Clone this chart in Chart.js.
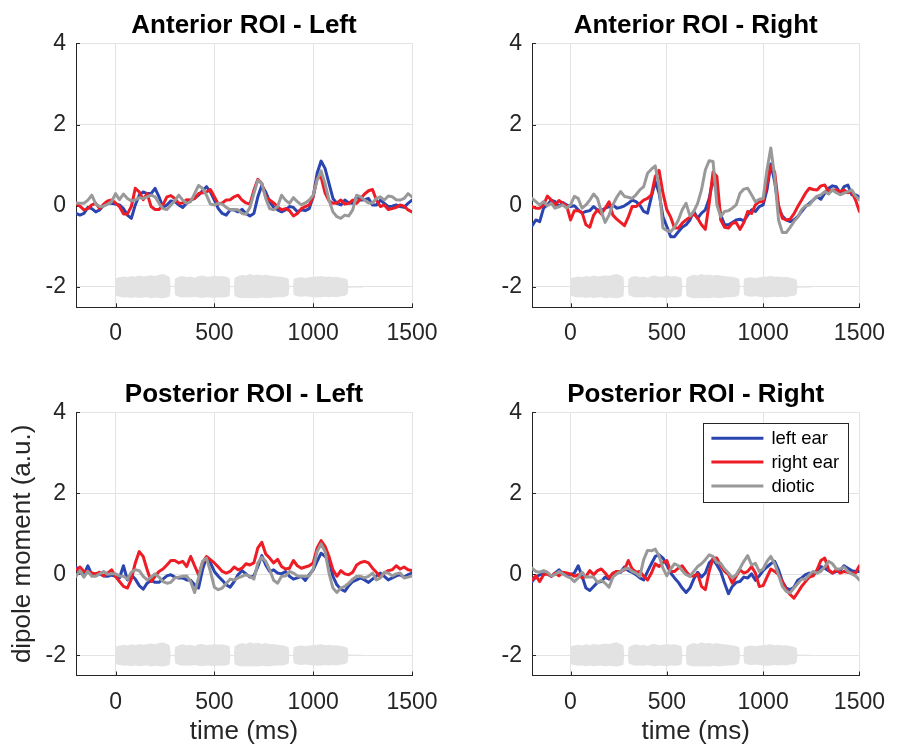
<!DOCTYPE html>
<html><head><meta charset="utf-8">
<script src="https://cdn.jsdelivr.net/npm/chart.js@4.4.1/dist/chart.umd.min.js"></script>
<style>
html,body{margin:0;padding:0;background:#fff;}
#wrap{position:relative;width:898px;height:749px;background:#fff;}
#wrap canvas{position:absolute;left:0;top:0;}
</style></head><body>
<div id="wrap">
<canvas id="c0" width="898" height="749"></canvas>
<canvas id="c1" width="898" height="749"></canvas>
<canvas id="c2" width="898" height="749"></canvas>
<canvas id="c3" width="898" height="749"></canvas>
</div>
<script>
// ---------------- data ----------------
const time = [-200,-180,-160,-140,-120,-100,-80,-60,-40,-20,0,20,40,60,80,100,120,140,160,180,200,220,240,260,280,300,320,340,360,380,400,420,440,460,480,500,520,540,560,580,600,620,640,660,680,700,720,740,760,780,800,820,840,860,880,900,920,940,960,980,1000,1020,1040,1060,1080,1100,1120,1140,1160,1180,1200,1220,1240,1260,1280,1300,1320,1340,1360,1380,1400,1420,1440,1460,1480,1500];

const seriesNames = ['left ear','right ear','diotic'];
const panelTitles = ['Anterior ROI - Left','Anterior ROI - Right','Posterior ROI - Left','Posterior ROI - Right'];
const xTickValues = [0,500,1000,1500];
const xTickLabels = ['0','500','1000','1500'];
const yTickValues = [-2,0,2,4];
const yTickLabels = ['-2','0','2','4'];
const xLabel = 'time (ms)';
const yLabel = 'dipole moment (a.u.)';

// Anterior ROI - Left
const antLeftLeftEar = [-0.19,-0.23,-0.19,-0.04,-0.07,-0.15,-0.10,0.02,0.06,0.06,
 0.04,0.02,-0.07,-0.23,-0.31,0.02,0.26,0.34,0.30,0.30,
 0.43,0.22,-0.04,0.02,0.12,0.10,0.02,-0.04,0.06,0.14,
 0.18,0.26,0.37,0.47,0.34,0.14,-0.07,-0.19,-0.23,-0.10,
 -0.10,-0.15,-0.09,-0.19,-0.25,-0.19,0.22,0.50,0.34,0.10,
 -0.04,-0.10,-0.15,-0.10,-0.02,-0.04,-0.15,-0.10,-0.12,-0.07,
 0.22,0.80,1.10,0.92,0.55,0.18,0.06,0.02,0.14,0.07,
 0.06,0.22,0.14,0.15,0.18,0.02,0.02,0.14,0.06,-0.02,
 -0.01,0.02,-0.02,-0.04,0.06,0.14];
const antLeftRightEar = [0.06,-0.01,-0.10,-0.07,0.02,0.06,-0.07,0.04,0.12,0.14,
 0.07,-0.02,-0.20,-0.20,-0.02,0.43,0.34,0.15,0.30,-0.02,
 -0.09,-0.09,0.02,0.22,0.25,0.18,0.06,0.07,0.15,0.14,
 0.18,0.30,0.32,0.34,0.40,0.22,0.04,0.07,0.14,0.15,
 0.22,0.26,0.14,0.07,0.04,0.38,0.65,0.55,0.22,0.14,
 0.07,-0.02,-0.10,-0.07,-0.12,-0.25,-0.19,-0.07,-0.02,0.02,
 0.22,0.67,0.71,0.32,0.12,0.06,0.07,0.14,0.04,0.06,
 0.14,0.06,0.18,0.29,0.37,0.40,0.14,-0.02,0.02,-0.09,
 -0.07,-0.04,0.02,-0.01,-0.10,-0.15];
const antLeftDiotic = [0.07,0.06,0.06,0.14,0.26,0.04,-0.02,-0.01,0.04,0.10,
 0.30,0.15,0.29,0.18,0.12,0.14,0.20,0.18,0.22,0.26,
 0.22,0.06,-0.07,-0.09,0.02,0.12,0.26,0.14,0.06,0.10,
 0.30,0.50,0.43,0.26,0.04,0.02,0.06,0.04,-0.04,-0.10,
 -0.09,-0.10,-0.19,-0.21,-0.04,0.30,0.63,0.55,0.18,-0.07,
 -0.10,-0.02,0.26,0.14,0.06,0.20,0.10,0.02,0.07,0.14,
 0.26,0.63,0.86,0.55,0.14,-0.15,-0.27,-0.31,-0.23,-0.25,
 -0.10,0.26,0.22,0.14,0.07,0.07,0.18,0.22,0.14,0.24,
 0.22,0.15,0.14,0.18,0.30,0.22];

// Anterior ROI - Right
const antRightLeftEar = [-0.50,-0.35,-0.39,-0.06,0.02,0.14,0.10,-0.02,0.08,0.02,
 -0.02,0.00,-0.10,-0.18,-0.14,-0.12,-0.02,-0.10,-0.12,-0.06,
 -0.02,0.02,-0.06,-0.04,0.00,0.06,0.14,0.10,0.02,-0.14,
 -0.18,0.22,0.60,0.31,-0.27,-0.51,-0.76,-0.76,-0.64,-0.53,
 -0.47,-0.35,-0.14,-0.31,-0.18,-0.10,0.18,0.68,0.31,-0.23,
 -0.47,-0.47,-0.41,-0.35,-0.33,-0.37,-0.23,-0.10,-0.14,-0.02,
 0.02,0.39,1.03,0.59,-0.06,-0.25,-0.35,-0.39,-0.35,-0.27,
 -0.14,-0.02,0.06,0.14,0.23,0.16,0.31,0.43,0.49,0.47,
 0.31,0.47,0.51,0.27,0.27,0.22];
const antRightRightEar = [-0.02,-0.06,-0.06,0.02,0.24,0.14,0.02,0.13,0.06,0.00,
 -0.35,-0.12,-0.12,-0.17,-0.47,-0.53,-0.23,-0.10,-0.20,-0.06,
 0.10,-0.23,-0.33,-0.41,-0.49,-0.28,-0.02,-0.02,0.06,0.14,
 0.18,0.27,0.72,0.87,0.31,-0.10,-0.28,-0.55,-0.55,-0.43,
 -0.35,-0.28,-0.20,-0.31,-0.47,-0.58,0.06,0.83,0.72,-0.35,
 -0.53,-0.55,-0.43,-0.41,-0.58,-0.41,-0.14,-0.19,0.02,0.10,
 0.10,0.55,0.98,0.83,0.02,-0.31,-0.35,-0.33,-0.20,-0.02,
 0.14,0.31,0.43,0.40,0.39,0.49,0.51,0.35,0.39,0.39,
 0.35,0.39,0.32,0.35,0.14,-0.14];
const antRightDiotic = [0.18,0.10,0.02,0.10,0.00,0.06,-0.06,-0.02,0.02,-0.06,
 0.02,0.23,0.18,-0.06,0.02,0.14,0.29,0.18,-0.14,-0.41,
 -0.23,0.02,0.21,0.35,0.23,0.21,0.18,0.27,0.39,0.47,
 0.80,0.90,0.98,0.47,-0.55,-0.61,-0.64,-0.53,-0.35,-0.10,
 0.06,-0.25,-0.14,0.06,0.39,0.88,1.11,1.09,0.02,-0.27,
 -0.14,-0.12,-0.06,0.02,0.31,0.41,0.43,0.27,0.10,0.16,
 0.18,0.88,1.42,0.72,-0.35,-0.66,-0.66,-0.53,-0.39,-0.28,
 -0.10,0.00,0.02,0.14,0.23,0.27,0.35,0.29,0.39,0.32,
 0.27,0.31,0.35,0.39,0.24,0.14];

// Posterior ROI - Left
const postLeftLeftEar = [0.18,0.03,-0.01,0.21,-0.01,0.01,0.01,-0.04,-0.05,-0.02,
 -0.05,-0.09,0.21,-0.14,-0.01,-0.12,-0.28,-0.37,-0.22,-0.15,
 -0.20,-0.20,-0.12,-0.04,-0.01,-0.07,-0.09,-0.09,-0.14,-0.15,
 -0.26,-0.34,0.11,0.42,0.28,0.07,-0.05,-0.15,-0.26,-0.32,
 -0.18,-0.01,0.09,0.01,-0.07,-0.04,0.19,0.46,0.23,0.07,
 0.11,0.03,0.01,0.07,-0.05,-0.12,-0.09,-0.05,-0.15,-0.01,
 0.11,0.32,0.52,0.44,0.34,-0.05,-0.26,-0.37,-0.42,-0.28,
 -0.18,-0.14,-0.09,-0.14,-0.20,-0.12,-0.04,0.03,-0.05,-0.14,
 -0.09,-0.04,-0.01,-0.07,-0.01,0.03];
const postLeftRightEar = [0.11,0.18,0.07,0.07,0.03,0.01,0.05,-0.04,0.03,0.11,
 -0.05,-0.18,-0.30,-0.34,-0.12,0.28,0.56,0.44,0.11,-0.18,
 -0.05,0.07,0.13,0.23,0.34,0.34,0.28,0.32,0.19,0.44,
 0.21,-0.01,0.28,0.44,0.36,0.28,0.18,0.07,0.03,0.07,
 0.18,0.11,0.15,0.26,0.23,0.28,0.65,0.79,0.50,0.40,
 0.28,0.37,0.19,0.13,0.15,0.34,0.21,0.15,0.18,0.21,
 0.28,0.65,0.83,0.69,0.44,0.11,-0.05,0.09,0.01,-0.01,
 0.05,0.23,0.29,0.32,0.28,0.15,0.05,-0.07,0.03,0.09,
 0.11,0.21,0.13,0.18,0.11,0.09];
const postLeftDiotic = [-0.05,0.09,-0.07,0.07,-0.05,-0.05,0.01,0.07,0.00,0.01,
 0.01,-0.04,-0.05,-0.12,0.05,0.11,0.09,-0.05,-0.14,-0.07,
 0.01,-0.07,-0.18,-0.22,-0.20,-0.09,-0.07,-0.05,-0.04,-0.18,
 -0.45,-0.09,0.32,0.40,0.07,-0.32,-0.38,-0.34,-0.23,-0.12,
 -0.14,-0.09,-0.05,-0.01,-0.05,-0.12,0.28,0.42,0.32,0.11,
 -0.15,-0.22,-0.05,-0.04,0.07,0.03,-0.04,-0.05,-0.05,-0.04,
 0.13,0.56,0.75,0.56,0.03,-0.34,-0.45,-0.34,-0.30,-0.22,
 -0.12,-0.05,-0.05,-0.09,-0.05,0.03,-0.14,-0.09,0.05,0.03,
 -0.04,0.01,0.03,-0.09,-0.07,-0.04];

// Posterior ROI - Right
const postRightLeftEar = [-0.18,-0.07,-0.01,0.01,0.01,-0.05,0.03,0.11,0.01,-0.01,
 -0.01,0.03,0.21,-0.05,-0.34,-0.40,-0.30,-0.20,-0.18,-0.07,
 -0.12,-0.01,0.07,0.05,0.18,0.09,0.05,-0.01,-0.09,-0.14,
 0.07,0.26,0.44,0.48,0.40,0.23,0.03,-0.09,-0.20,-0.34,
 -0.45,-0.34,-0.12,0.05,-0.07,0.03,0.28,0.37,0.23,0.07,
 -0.22,-0.48,-0.30,-0.20,-0.18,-0.07,-0.09,0.01,-0.15,-0.04,
 0.09,0.18,0.26,0.32,0.11,-0.18,-0.34,-0.38,-0.32,-0.15,
 -0.09,-0.01,0.03,-0.01,0.07,0.19,0.15,0.09,0.03,0.07,
 0.09,0.21,0.15,0.09,0.07,0.07];
const postRightRightEar = [-0.14,-0.04,-0.18,-0.01,0.01,-0.05,0.03,-0.04,0.05,0.03,
 0.01,-0.05,-0.01,-0.09,-0.05,0.09,-0.01,0.09,0.13,0.03,
 -0.09,0.03,0.07,0.07,0.11,0.34,0.13,0.05,0.07,-0.05,
 -0.14,0.03,0.26,0.19,0.29,0.34,0.07,0.07,0.15,0.21,
 0.07,-0.04,-0.04,0.01,-0.30,-0.38,0.07,0.40,0.40,0.21,
 0.07,-0.01,-0.22,-0.05,0.11,0.03,0.07,0.19,0.03,-0.30,
 -0.28,-0.07,0.13,0.07,-0.01,-0.18,-0.38,-0.50,-0.59,-0.45,
 -0.30,-0.18,-0.07,-0.04,0.11,0.34,0.40,0.11,0.03,0.11,
 0.03,0.07,0.05,0.03,0.03,0.21];
const postRightDiotic = [0.15,0.07,0.05,0.09,0.05,-0.04,-0.01,0.07,0.01,-0.05,
 -0.09,-0.18,-0.09,0.05,-0.07,-0.07,-0.07,-0.20,-0.15,-0.22,
 -0.32,-0.07,0.01,0.07,0.13,0.15,0.07,0.03,-0.05,0.36,
 0.59,0.58,0.62,0.45,0.15,-0.04,0.13,0.26,0.21,0.09,
 -0.01,-0.05,0.07,0.19,0.26,0.36,0.48,0.44,0.29,0.27,
 0.13,0.03,-0.09,-0.01,0.15,0.32,0.46,0.23,0.27,0.07,
 0.13,0.32,0.44,0.26,-0.01,-0.30,-0.42,-0.46,-0.34,-0.23,
 -0.12,-0.12,-0.01,0.07,0.03,0.07,0.19,0.32,0.26,0.13,
 0.13,0.18,0.07,0.01,-0.04,-0.14];

// stimulus waveform envelope (drawn around -2)
const audioT = [0,3,20,40,60,80,100,120,140,160,180,200,220,240,260,275,279,
 298,301,320,340,360,380,400,420,440,460,480,500,520,540,560,577,581,
 599,602,620,640,660,680,700,720,740,760,780,800,820,840,860,876,880,
 898,901,920,940,960,980,1000,1020,1040,1060,1080,1100,1120,1140,1160,1174,1178,1250,1252];
const audioHi = [-2,-1.78,-1.76,-1.74,-1.76,-1.73,-1.75,-1.72,-1.74,-1.73,-1.71,-1.73,-1.70,-1.68,-1.72,-1.76,-2,
 -2,-1.80,-1.75,-1.73,-1.76,-1.74,-1.77,-1.73,-1.72,-1.75,-1.74,-1.72,-1.74,-1.73,-1.75,-1.78,-2,
 -2,-1.78,-1.73,-1.70,-1.72,-1.68,-1.71,-1.69,-1.72,-1.70,-1.72,-1.73,-1.74,-1.75,-1.77,-1.80,-2,
 -2,-1.80,-1.77,-1.76,-1.78,-1.76,-1.75,-1.74,-1.73,-1.75,-1.74,-1.76,-1.75,-1.77,-1.79,-1.82,-1.98,-1.99,-2];
const audioLo = [-2,-2.22,-2.24,-2.26,-2.25,-2.27,-2.25,-2.27,-2.26,-2.25,-2.28,-2.26,-2.27,-2.28,-2.26,-2.23,-2,
 -2,-2.20,-2.24,-2.26,-2.25,-2.26,-2.24,-2.26,-2.27,-2.25,-2.26,-2.27,-2.25,-2.26,-2.25,-2.22,-2,
 -2,-2.22,-2.26,-2.28,-2.27,-2.28,-2.27,-2.28,-2.26,-2.27,-2.27,-2.26,-2.25,-2.25,-2.24,-2.20,-2,
 -2,-2.20,-2.23,-2.24,-2.23,-2.24,-2.25,-2.26,-2.25,-2.24,-2.25,-2.24,-2.25,-2.23,-2.22,-2.18,-2.02,-2.01,-2];

const panelSeries = [
  [antLeftLeftEar, antLeftRightEar, antLeftDiotic],
  [antRightLeftEar, antRightRightEar, antRightDiotic],
  [postLeftLeftEar, postLeftRightEar, postLeftDiotic],
  [postRightLeftEar, postRightRightEar, postRightDiotic]
];

// ---------------- style / layout ----------------
const lineColors = ['#2a44b0','#ee1c25','#999999'];
const bandColor = '#e3e3e3';
const axisColor = '#262626';
const gridColor = '#e3e3e3';
const FONT = '"Liberation Sans", Arial, Helvetica, sans-serif';
Chart.defaults.font.family = FONT;

const W = 898, H = 749, YW = 76, XH = 73.5;
const geom = [
  {L:76,  R:412, T:43.3,  B:307.3},
  {L:532, R:868, T:43.3,  B:307.3},
  {L:76,  R:412, T:412.3, B:675.5},
  {L:532, R:868, T:412.3, B:675.5}
];

const inwardTicks = {
  id:'inwardTicks',
  beforeDatasetsDraw(chart){
    const {ctx, chartArea:a, scales:{x,y}} = chart;
    ctx.save();
    ctx.strokeStyle = axisColor; ctx.lineWidth = 1;
    ctx.beginPath();
    x.ticks.forEach(t=>{ const px = Math.round(x.getPixelForValue(t.value))+0.5; ctx.moveTo(px,a.bottom); ctx.lineTo(px,a.bottom-4); });
    y.ticks.forEach(t=>{ const py = Math.round(y.getPixelForValue(t.value))+0.5; ctx.moveTo(a.left,py); ctx.lineTo(a.left+4,py); });
    ctx.stroke();
    ctx.restore();
  }
};

const panelTitle = {
  id:'panelTitle',
  afterDraw(chart, args, opts){
    const {ctx, chartArea:a} = chart;
    ctx.save();
    ctx.font = 'bold 26px ' + FONT;
    ctx.fillStyle = '#000';
    ctx.textAlign = 'center';
    ctx.textBaseline = 'alphabetic';
    ctx.fillText(opts.text, (a.left+a.right)/2, a.top - 10);
    ctx.restore();
  }
};

const boxLegend = {
  id:'boxLegend',
  afterDraw(chart, args, opts){
    if(!opts.show) return;
    const {ctx, chartArea:a} = chart;
    const bx = a.right - 156, by = a.top + 10.5, bw = 145, bh = 79;
    ctx.save();
    ctx.fillStyle = '#fff';
    ctx.fillRect(bx, by, bw, bh);
    ctx.strokeStyle = axisColor; ctx.lineWidth = 1;
    ctx.strokeRect(Math.round(bx)+0.5, Math.round(by)+0.5, bw, bh);
    ctx.font = '18.5px ' + FONT;
    ctx.textAlign = 'left'; ctx.textBaseline = 'middle';
    seriesNames.forEach((name,k)=>{
      const yy = by + 15.5 + k*23.8;
      ctx.strokeStyle = lineColors[k]; ctx.lineWidth = 3;
      ctx.beginPath(); ctx.moveTo(bx+8, yy); ctx.lineTo(bx+60, yy); ctx.stroke();
      ctx.fillStyle = '#000';
      ctx.fillText(name, bx+68, yy+1);
    });
    ctx.restore();
  }
};

function makePanel(idx){
  const g = geom[idx];
  const bottomRow = idx >= 2;
  const datasets = [];
  panelSeries[idx].forEach((vals,k)=>{
    datasets.push({
      label: seriesNames[k],
      data: time.map((t,i)=>({x:t, y:vals[i]})),
      borderColor: lineColors[k], borderWidth: 3,
      borderJoinStyle: 'round', borderCapStyle: 'round',
      pointRadius: 0, tension: 0, fill: false,
      order: 3 - k
    });
  });
  datasets.push({
    label: 'stimulus-hi',
    data: audioT.map((t,i)=>({x:t, y:audioHi[i]})),
    borderColor: 'rgba(0,0,0,0)', borderWidth: 1, backgroundColor: bandColor,
    pointRadius: 0, tension: 0, fill: false, order: 10
  });
  datasets.push({
    label: 'stimulus-lo',
    data: audioT.map((t,i)=>({x:t, y:audioLo[i]})),
    borderColor: 'rgba(0,0,0,0)', borderWidth: 1, backgroundColor: bandColor,
    pointRadius: 0, tension: 0, fill: '-1', order: 11
  });

  return new Chart(document.getElementById('c'+idx), {
    type: 'line',
    data: { datasets },
    options: {
      responsive: false, animation: false, devicePixelRatio: 1,
      events: [],
      layout: { padding: { left: g.L - YW, top: g.T, right: W - g.R, bottom: H - g.B - XH } },
      plugins: {
        legend: { display: false }, tooltip: { enabled: false },
        panelTitle: { text: panelTitles[idx] },
        boxLegend: { show: idx === 3 }
      },
      scales: {
        x: {
          type: 'linear', min: -200, max: 1500,
          afterBuildTicks: s => { s.ticks = xTickValues.map(v=>({value:v})); },
          afterFit: s => { s.height = XH; },
          grid: { color: gridColor, lineWidth: 1, drawTicks: false },
          border: { display: true, color: axisColor, width: 1 },
          ticks: { color: axisColor, font: { size: 23 }, padding: 13, maxRotation: 0, autoSkip: false,
                   callback: (v, i) => xTickLabels[i] },
          title: { display: bottomRow, text: xLabel, color: axisColor, font: { size: 26 }, padding: { top: 0, bottom: 1.4 } }
        },
        y: {
          type: 'linear', min: -2.5, max: 4,
          afterBuildTicks: s => { s.ticks = yTickValues.map(v=>({value:v})); },
          afterFit: s => { s.width = YW; },
          grid: { color: gridColor, lineWidth: 1, drawTicks: false },
          border: { display: true, color: axisColor, width: 1 },
          ticks: { color: axisColor, font: { size: 23 }, padding: 10, autoSkip: false,
                   callback: (v, i) => yTickLabels[i] },
          title: { display: idx === 2, text: yLabel, color: axisColor, font: { size: 26 }, padding: { top: 7.4, bottom: 0 } }
        }
      }
    },
    plugins: [inwardTicks, panelTitle, boxLegend]
  });
}
[0,1,2,3].forEach(makePanel);
</script>
</body></html>
